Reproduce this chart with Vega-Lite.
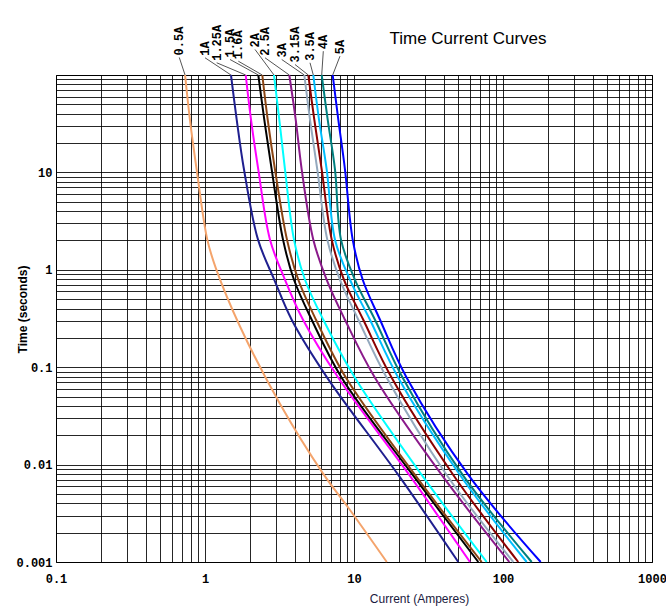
{
  "$schema": "https://vega.github.io/schema/vega-lite/v6.json",
  "width": 596,
  "height": 487,
  "autosize": {"type": "none"},
  "padding": {"left": 56, "top": 75, "right": 14, "bottom": 48},
  "background": "white",
  "config": {"view": {"stroke": "#000", "strokeWidth": 1}, "font": "Liberation Sans"},
  "title": {"text": "Time Current Curves", "frame": "group", "anchor": "middle", "dx": 114, "offset": -40, "baseline": "bottom", "font": "Liberation Sans", "fontSize": 17, "fontWeight": "normal", "color": "#000"},
  "datasets": {
    "curves": [
      {"fuse": "0.5A", "current": 0.735, "time": 100},
      {"fuse": "0.5A", "current": 0.792, "time": 34.9},
      {"fuse": "0.5A", "current": 0.879, "time": 10.7},
      {"fuse": "0.5A", "current": 1.036, "time": 2.04},
      {"fuse": "0.5A", "current": 1.185, "time": 1.03},
      {"fuse": "0.5A", "current": 1.718, "time": 0.262},
      {"fuse": "0.5A", "current": 3.19, "time": 0.0418},
      {"fuse": "0.5A", "current": 6.17, "time": 0.00817},
      {"fuse": "0.5A", "current": 9.4, "time": 0.00342},
      {"fuse": "0.5A", "current": 16.6, "time": 0.001},
      {"fuse": "1A", "current": 1.494, "time": 100},
      {"fuse": "1A", "current": 1.632, "time": 34.9},
      {"fuse": "1A", "current": 1.827, "time": 10.7},
      {"fuse": "1A", "current": 2.269, "time": 2.04},
      {"fuse": "1A", "current": 2.918, "time": 0.79},
      {"fuse": "1A", "current": 3.818, "time": 0.307},
      {"fuse": "1A", "current": 6.62, "time": 0.0778},
      {"fuse": "1A", "current": 19.83, "time": 0.00783},
      {"fuse": "1A", "current": 50.1, "time": 0.001},
      {"fuse": "1.25A", "current": 1.876, "time": 100},
      {"fuse": "1.25A", "current": 2.036, "time": 34.9},
      {"fuse": "1.25A", "current": 2.279, "time": 10.7},
      {"fuse": "1.25A", "current": 2.731, "time": 2.04},
      {"fuse": "1.25A", "current": 3.443, "time": 0.79},
      {"fuse": "1.25A", "current": 4.548, "time": 0.307},
      {"fuse": "1.25A", "current": 7.85, "time": 0.0778},
      {"fuse": "1.25A", "current": 23.5, "time": 0.00783},
      {"fuse": "1.25A", "current": 60.05, "time": 0.001},
      {"fuse": "1.5A", "current": 2.279, "time": 100},
      {"fuse": "1.5A", "current": 2.5, "time": 34.9},
      {"fuse": "1.5A", "current": 2.804, "time": 10.7},
      {"fuse": "1.5A", "current": 3.339, "time": 2.04},
      {"fuse": "1.5A", "current": 3.956, "time": 0.79},
      {"fuse": "1.5A", "current": 5.202, "time": 0.307},
      {"fuse": "1.5A", "current": 8.27, "time": 0.0778},
      {"fuse": "1.5A", "current": 24.77, "time": 0.00783},
      {"fuse": "1.5A", "current": 68.28, "time": 0.001},
      {"fuse": "1.6A", "current": 2.424, "time": 100},
      {"fuse": "1.6A", "current": 2.635, "time": 34.9},
      {"fuse": "1.6A", "current": 2.95, "time": 10.7},
      {"fuse": "1.6A", "current": 3.55, "time": 2.04},
      {"fuse": "1.6A", "current": 4.228, "time": 0.79},
      {"fuse": "1.6A", "current": 5.559, "time": 0.307},
      {"fuse": "1.6A", "current": 8.84, "time": 0.0778},
      {"fuse": "1.6A", "current": 25.67, "time": 0.00783},
      {"fuse": "1.6A", "current": 71.94, "time": 0.001},
      {"fuse": "2A", "current": 2.904, "time": 100},
      {"fuse": "2A", "current": 3.152, "time": 34.9},
      {"fuse": "2A", "current": 3.443, "time": 10.7},
      {"fuse": "2A", "current": 3.956, "time": 2.04},
      {"fuse": "2A", "current": 4.69, "time": 0.79},
      {"fuse": "2A", "current": 6.223, "time": 0.307},
      {"fuse": "2A", "current": 10.15, "time": 0.0778},
      {"fuse": "2A", "current": 28.48, "time": 0.00783},
      {"fuse": "2A", "current": 77.74, "time": 0.001},
      {"fuse": "2.5A", "current": 3.679, "time": 100},
      {"fuse": "2.5A", "current": 4.062, "time": 34.9},
      {"fuse": "2.5A", "current": 4.457, "time": 10.7},
      {"fuse": "2.5A", "current": 5.332, "time": 2.04},
      {"fuse": "2.5A", "current": 6.558, "time": 0.79},
      {"fuse": "2.5A", "current": 8.7, "time": 0.307},
      {"fuse": "2.5A", "current": 13.83, "time": 0.0778},
      {"fuse": "2.5A", "current": 38.79, "time": 0.00783},
      {"fuse": "2.5A", "current": 110.2, "time": 0.001},
      {"fuse": "3A", "current": 4.64, "time": 100},
      {"fuse": "3A", "current": 5.067, "time": 34.9},
      {"fuse": "3A", "current": 5.672, "time": 10.7},
      {"fuse": "3A", "current": 6.62, "time": 2.04},
      {"fuse": "3A", "current": 8.054, "time": 0.79},
      {"fuse": "3A", "current": 10.69, "time": 0.307},
      {"fuse": "3A", "current": 16.58, "time": 0.0778},
      {"fuse": "3A", "current": 41.9, "time": 0.00783},
      {"fuse": "3A", "current": 117.2, "time": 0.001},
      {"fuse": "3.15A", "current": 4.935, "time": 100},
      {"fuse": "3.15A", "current": 5.415, "time": 34.9},
      {"fuse": "3.15A", "current": 6.071, "time": 10.7},
      {"fuse": "3.15A", "current": 7.087, "time": 2.04},
      {"fuse": "3.15A", "current": 8.568, "time": 0.79},
      {"fuse": "3.15A", "current": 11.54, "time": 0.307},
      {"fuse": "3.15A", "current": 17.91, "time": 0.0778},
      {"fuse": "3.15A", "current": 46.39, "time": 0.00783},
      {"fuse": "3.15A", "current": 126.6, "time": 0.001},
      {"fuse": "3.5A", "current": 5.332, "time": 100},
      {"fuse": "3.5A", "current": 5.822, "time": 34.9},
      {"fuse": "3.5A", "current": 6.558, "time": 10.7},
      {"fuse": "3.5A", "current": 7.455, "time": 2.04},
      {"fuse": "3.5A", "current": 9.4, "time": 0.79},
      {"fuse": "3.5A", "current": 12.8, "time": 0.307},
      {"fuse": "3.5A", "current": 19.83, "time": 0.0778},
      {"fuse": "3.5A", "current": 51.45, "time": 0.00783},
      {"fuse": "3.5A", "current": 144.2, "time": 0.001},
      {"fuse": "4A", "current": 6.071, "time": 100},
      {"fuse": "4A", "current": 6.66, "time": 34.9},
      {"fuse": "4A", "current": 7.455, "time": 10.7},
      {"fuse": "4A", "current": 8.18, "time": 2.04},
      {"fuse": "4A", "current": 10.15, "time": 0.79},
      {"fuse": "4A", "current": 13.83, "time": 0.307},
      {"fuse": "4A", "current": 21.22, "time": 0.0778},
      {"fuse": "4A", "current": 53.64, "time": 0.00783},
      {"fuse": "4A", "current": 155.8, "time": 0.001},
      {"fuse": "5A", "current": 7.194, "time": 100},
      {"fuse": "5A", "current": 7.847, "time": 34.9},
      {"fuse": "5A", "current": 8.7, "time": 10.7},
      {"fuse": "5A", "current": 9.8, "time": 2.04},
      {"fuse": "5A", "current": 11.44, "time": 0.79},
      {"fuse": "5A", "current": 14.95, "time": 0.307},
      {"fuse": "5A", "current": 22.58, "time": 0.0778},
      {"fuse": "5A", "current": 58.5, "time": 0.00783},
      {"fuse": "5A", "current": 179.1, "time": 0.001}
    ],
    "labels": [
      {"fuse": "0.5A", "current": 0.672, "time": 151.4, "top_current": 0.735, "top_time": 100},
      {"fuse": "1A", "current": 1.0, "time": 150.3, "top_current": 1.494, "top_time": 100},
      {"fuse": "1.25A", "current": 1.198, "time": 133.5, "top_current": 1.876, "top_time": 100},
      {"fuse": "1.5A", "current": 1.472, "time": 144.3, "top_current": 2.279, "top_time": 100},
      {"fuse": "1.6A", "current": 1.673, "time": 138.6, "top_current": 2.424, "top_time": 100},
      {"fuse": "2A", "current": 2.166, "time": 182.9, "top_current": 2.904, "top_time": 100},
      {"fuse": "2.5A", "current": 2.527, "time": 150.3, "top_current": 3.679, "top_time": 100},
      {"fuse": "3A", "current": 3.272, "time": 144.3, "top_current": 4.64, "top_time": 100},
      {"fuse": "3.15A", "current": 4.018, "time": 128.2, "top_current": 4.935, "top_time": 100},
      {"fuse": "3.5A", "current": 5.067, "time": 133.5, "top_current": 5.332, "top_time": 100},
      {"fuse": "4A", "current": 6.223, "time": 175.6, "top_current": 6.071, "top_time": 100},
      {"fuse": "5A", "current": 8.054, "time": 156.1, "top_current": 7.194, "top_time": 100}
    ]
  },
  "encoding": {
    "x": {
      "field": "current",
      "type": "quantitative",
      "scale": {"type": "log", "domain": [0.1, 1000], "nice": false},
      "axis": {
        "title": "Current (Amperes)",
        "values": [0.1, 0.2, 0.3, 0.4, 0.5, 0.6, 0.7, 0.8, 0.9, 1, 2, 3, 4, 5, 6, 7, 8, 9, 10, 20, 30, 40, 50, 60, 70, 80, 90, 100, 200, 300, 400, 500, 600, 700, 800, 900, 1000],
        "format": "~g",
        "labelExpr": "indexof(['0.1','1','10','100','1000'], datum.label) >= 0 ? datum.label : ''",
        "grid": true,
        "gridColor": "#000",
        "gridOpacity": 0.85,
        "gridWidth": 1,
        "ticks": false,
        "domain": false,
        "labelOverlap": false,
        "labelBound": false,
        "labelFlush": false,
        "labelFont": "Liberation Mono",
        "labelFontWeight": "bold",
        "labelFontSize": 12,
        "labelColor": "#000",
        "labelPadding": 11,
        "titleFont": "Liberation Sans",
        "titleFontSize": 12,
        "titleFontWeight": "normal",
        "titleColor": "#1a1a40",
        "titleX": 363,
        "titleY": 36,
        "titleAlign": "center",
        "titleBaseline": "middle"
      }
    },
    "y": {
      "field": "time",
      "type": "quantitative",
      "scale": {"type": "log", "domain": [0.001, 100], "nice": false},
      "axis": {
        "title": "Time (seconds)",
        "values": [0.001, 0.002, 0.003, 0.004, 0.005, 0.006, 0.007, 0.008, 0.009, 0.01, 0.02, 0.03, 0.04, 0.05, 0.06, 0.07, 0.08, 0.09, 0.1, 0.2, 0.3, 0.4, 0.5, 0.6, 0.7, 0.8, 0.9, 1, 2, 3, 4, 5, 6, 7, 8, 9, 10, 20, 30, 40, 50, 60, 70, 80, 90, 100],
        "format": "~g",
        "labelExpr": "indexof(['0.001','0.01','0.1','1','10'], datum.label) >= 0 ? datum.label : ''",
        "grid": true,
        "gridColor": "#000",
        "gridOpacity": 0.85,
        "gridWidth": 1,
        "ticks": false,
        "domain": false,
        "labelOverlap": false,
        "labelBound": false,
        "labelFlush": false,
        "labelFont": "Liberation Mono",
        "labelFontWeight": "bold",
        "labelFontSize": 12,
        "labelColor": "#000",
        "labelPadding": 4,
        "titleFont": "Liberation Sans",
        "titleFontSize": 12,
        "titleFontWeight": "bold",
        "titleColor": "#000",
        "titleAngle": 270,
        "titleX": -34,
        "titleY": 234,
        "titleAlign": "center",
        "titleBaseline": "middle"
      }
    }
  },
  "layer": [
    {
      "data": {"name": "curves"},
      "mark": {"type": "line", "interpolate": "catmull-rom", "strokeWidth": 2},
      "encoding": {
        "color": {
          "field": "fuse",
          "type": "nominal",
          "scale": {
            "domain": ["0.5A", "1A", "1.25A", "1.5A", "1.6A", "2A", "2.5A", "3A", "3.15A", "3.5A", "4A", "5A"],
            "range": ["#F4A46C", "#1F1F8F", "#FF00FF", "#000000", "#8B4513", "#00FFFF", "#8B1A8B", "#94A9BE", "#8B0000", "#00BFFF", "#008080", "#0000FF"]
          },
          "legend": null
        }
      }
    },
    {
      "data": {"name": "labels"},
      "mark": {"type": "rule", "color": "#555", "strokeWidth": 1},
      "encoding": {
        "x2": {"field": "top_current"},
        "y2": {"field": "top_time"}
      }
    },
    {
      "data": {"name": "labels"},
      "mark": {"type": "text", "angle": 270, "align": "left", "baseline": "middle", "dx": 2, "font": "Liberation Mono", "fontWeight": "bold", "fontSize": 12, "color": "#000"},
      "encoding": {
        "text": {"field": "fuse"}
      }
    }
  ]
}
